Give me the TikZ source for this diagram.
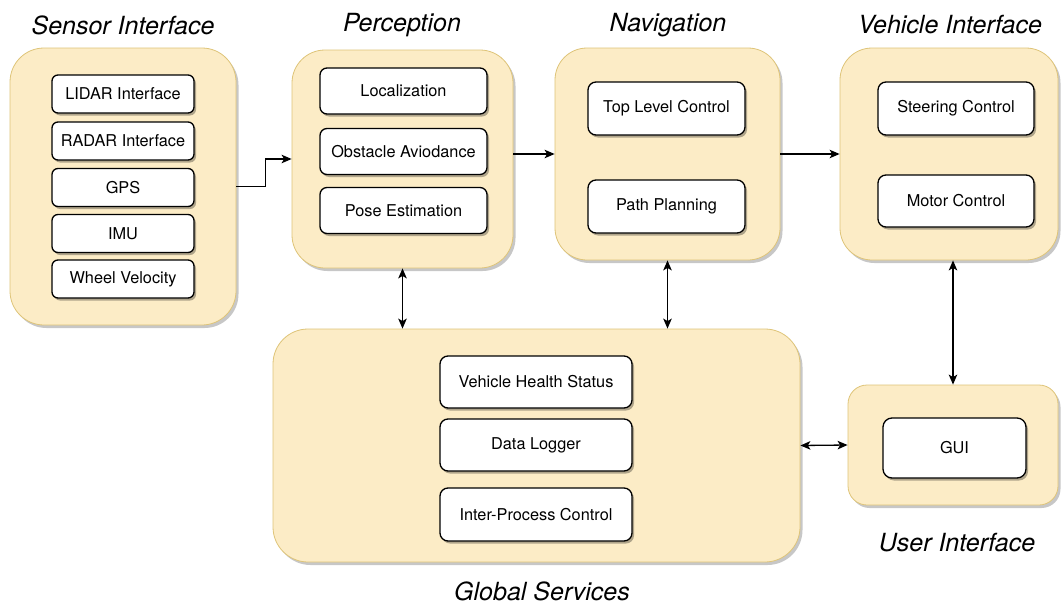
\documentclass[tikz,border=0pt]{standalone}
\usepackage{fontspec}
\setmainfont{TeX Gyre Heros}
\usetikzlibrary{shadows,arrows.meta}
\definecolor{groupfill}{RGB}{252,236,198}
\definecolor{groupline}{RGB}{222,196,120}
\tikzset{
  group/.style={draw=groupline, line width=0.8pt, fill=groupfill,
    drop shadow={shadow xshift=2.5pt, shadow yshift=-3pt, opacity=0.22, fill=black}},
  unit/.style={draw=black, line width=1.3pt, fill=white, align=center,
    font=\fontsize{16.3}{19}\selectfont,
    drop shadow={shadow xshift=2pt, shadow yshift=-2.5pt, opacity=0.3, fill=black}},
  heading/.style={font=\fontsize{25}{30}\selectfont\itshape},
  link/.style={line width=1.3pt, -{Stealth[length=10pt,width=8.5pt,inset=2.5pt]}},
  dlink/.style={line width=1.3pt, {Stealth[length=10pt,width=8.5pt,inset=2.5pt]}-{Stealth[length=10pt,width=8.5pt,inset=2.5pt]}}
}
\begin{document}
\begin{tikzpicture}[x=1pt,y=-1pt]
\useasboundingbox (0,0) rectangle (1063,605);

% group containers
\node[group, minimum width=226, minimum height=277, rounded corners=34] (sensor) at (123,186.5) {};
\node[group, minimum width=221, minimum height=218, rounded corners=33] (perc) at (402.5,159) {};
\node[group, minimum width=225, minimum height=212, rounded corners=32] (nav) at (667.5,154) {};
\node[group, minimum width=218, minimum height=212, rounded corners=32] (veh) at (949,154) {};
\node[group, minimum width=527, minimum height=233, rounded corners=35] (glob) at (536.5,445.5) {};
\node[group, minimum width=210, minimum height=120, rounded corners=19] (ui) at (953,445) {};

% group headings
\node[heading] (tsensor) at (123,25) {Sensor Interface};
\node[heading] (tperc) at (402,25) {Perception};
\node[heading] (tnav) at (668,25) {Navigation};
\node[heading] (tveh) at (950,25) {Vehicle Interface};
\node[heading] (tui) at (957,543) {User Interface};
\node[heading] (tglob) at (542,591) {Global Services};

% sensor interface units
\node[unit, minimum width=142, minimum height=38, rounded corners=6] (lidar) at (123,94) {LIDAR Interface};
\node[unit, minimum width=142, minimum height=38, rounded corners=6] (radar) at (123,141) {RADAR Interface};
\node[unit, minimum width=142, minimum height=38, rounded corners=6] (gps) at (123,187.5) {GPS};
\node[unit, minimum width=142, minimum height=38, rounded corners=6] (imu) at (123,233.5) {IMU};
\node[unit, minimum width=142, minimum height=38, rounded corners=6] (wheel) at (123,279) {Wheel Velocity};

% perception units
\node[unit, minimum width=167, minimum height=46, rounded corners=7] (loc) at (403.5,91) {Localization};
\node[unit, minimum width=167, minimum height=46, rounded corners=7] (obs) at (403.5,151.5) {Obstacle Aviodance};
\node[unit, minimum width=167, minimum height=46, rounded corners=7] (pose) at (403.5,210.5) {Pose Estimation};

% navigation units
\node[unit, minimum width=157, minimum height=53, rounded corners=8] (tlc) at (666.5,108.5) {Top Level Control};
\node[unit, minimum width=157, minimum height=53, rounded corners=8] (pp) at (666.5,206.5) {Path Planning};

% vehicle interface units
\node[unit, minimum width=156, minimum height=53, rounded corners=8] (steer) at (956,108.5) {Steering Control};
\node[unit, minimum width=156, minimum height=52, rounded corners=8] (motor) at (956,201) {Motor Control};

% global services units
\node[unit, minimum width=192, minimum height=52, rounded corners=8] (vhs) at (536,382) {Vehicle Health Status};
\node[unit, minimum width=192, minimum height=52, rounded corners=8] (dlog) at (536,445) {Data Logger};
\node[unit, minimum width=192, minimum height=53, rounded corners=8] (ipc) at (536,514.5) {Inter-Process Control};

% user interface unit
\node[unit, minimum width=143, minimum height=60, rounded corners=9] (gui) at (954.5,448) {GUI};

% data flow
\draw[link] (sensor.east) -- ++(29,0) |- (perc.west);
\draw[link] (perc.east |- nav.west) -- (nav.west);
\draw[link] (nav.east) -- (veh.west);

% service links
\draw[dlink] (perc.south) -- (perc.south |- glob.north);
\draw[dlink] (nav.south) -- (nav.south |- glob.north);
\draw[dlink] (ui.north |- veh.south) -- (ui.north);
\draw[dlink] (glob.east) -- (ui.west);
\end{tikzpicture}
\end{document}
